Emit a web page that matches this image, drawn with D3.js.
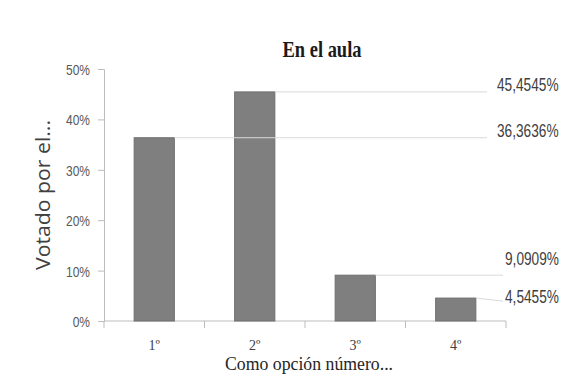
<!DOCTYPE html>
<html>
<head>
<meta charset="utf-8">
<script src="https://cdn.jsdelivr.net/npm/d3@7"></script>
<style>
  html, body { margin: 0; padding: 0; background: #fff; }
  svg { display: block; }
</style>
</head>
<body>
<svg id="chart" width="566" height="376"></svg>
<script>
// Votes per option rank, classroom group
const categories = ["1º", "2º", "3º", "4º"];
const values = [36.3636, 45.4545, 9.0909, 4.5455];
const valueLabels = ["36,3636%", "45,4545%", "9,0909%", "4,5455%"];
const yTicks = [0, 10, 20, 30, 40, 50];

const svg = d3.select("#chart");
const plot = { left: 104, right: 506, top: 69, bottom: 321 };

const x = d3.scaleBand()
  .domain(categories)
  .range([plot.left, plot.right])
  .paddingInner(0.6)
  .paddingOuter(0.3);

const y = d3.scaleLinear()
  .domain([0, 50])
  .range([plot.bottom, plot.top]);

const axisColor = "#bdbdbd";
const sans = "'Liberation Sans', Arial, sans-serif";
const serif = "'Liberation Serif', 'Times New Roman', serif";

// Y axis
const yAxis = svg.append("g")
  .attr("transform", `translate(${plot.left},0)`)
  .call(d3.axisLeft(y).tickValues(yTicks).tickFormat(d => d + "%").tickSizeOuter(0).tickSize(6).tickPadding(8));
yAxis.select(".domain").attr("stroke", axisColor);
yAxis.selectAll(".tick line").attr("stroke", axisColor);
// condensed tick labels: scale each label horizontally about its right edge
yAxis.selectAll(".tick text")
  .attr("x", 0)
  .attr("dy", "0.36em")
  .attr("transform", "translate(-14,0) scale(0.8,1)")
  .attr("fill", "#595959")
  .style("font-family", sans)
  .style("font-size", "15px");

// X axis with tick marks on band boundaries
const xAxisG = svg.append("g").attr("transform", `translate(0,${plot.bottom})`);
xAxisG.append("line")
  .attr("x1", plot.left).attr("x2", plot.right)
  .attr("y1", 0).attr("y2", 0)
  .attr("stroke", axisColor);
const boundaries = categories.map((c, i) => plot.left + i * x.step());
boundaries.push(plot.right);
xAxisG.selectAll("line.tick")
  .data(boundaries)
  .join("line")
  .attr("class", "tick")
  .attr("x1", d => d).attr("x2", d => d)
  .attr("y1", 0).attr("y2", 7)
  .attr("stroke", axisColor);
xAxisG.selectAll("text.cat")
  .data(categories)
  .join("text")
  .attr("class", "cat")
  .attr("x", d => x(d) + x.bandwidth() / 2)
  .attr("y", 29)
  .attr("text-anchor", "middle")
  .attr("fill", "#404040")
  .style("font-family", serif)
  .style("font-size", "14px")
  .text(d => d);

// Bars
svg.append("g")
  .selectAll("rect")
  .data(values)
  .join("rect")
  .attr("x", (d, i) => x(categories[i]))
  .attr("y", d => y(d))
  .attr("width", x.bandwidth())
  .attr("height", d => plot.bottom - y(d))
  .attr("fill", "#7f7f7f")
  .attr("stroke", "#6f6f6f")
  .attr("stroke-width", 1);

// Leader lines and value labels on the right
const leaderEnd = [487, 487, 503, 503];
const leaderDrop = [0, 0, 0, 3];
const labelX = [497, 497, 505, 505];
const labelDy = [-1, -1, -10, 2];

const leaders = svg.append("g");
values.forEach((v, i) => {
  const x0 = x(categories[i]) + x.bandwidth();
  const y0 = y(v);
  const y1 = y0 + leaderDrop[i];
  leaders.append("line")
    .attr("x1", x0).attr("y1", y0)
    .attr("x2", leaderEnd[i]).attr("y2", y1)
    .attr("stroke", "#d9d9d9")
    .attr("stroke-width", 1);
  leaders.append("text")
    .attr("transform", `translate(${labelX[i]},${y1 + labelDy[i]}) scale(0.76,1)`)
    .attr("fill", "#404040")
    .style("font-family", sans)
    .style("font-size", "18px")
    .text(valueLabels[i]);
});

// Title
svg.append("text")
  .attr("x", 322)
  .attr("y", 57)
  .attr("text-anchor", "middle")
  .attr("fill", "#1a1a1a")
  .attr("textLength", 79)
  .attr("lengthAdjust", "spacingAndGlyphs")
  .style("font-family", serif)
  .style("font-weight", "bold")
  .style("font-size", "23px")
  .text("En el aula");

// Axis titles
svg.append("text")
  .attr("transform", "translate(50,195) rotate(-90)")
  .attr("text-anchor", "middle")
  .attr("fill", "#404040")
  .attr("textLength", 150)
  .attr("lengthAdjust", "spacingAndGlyphs")
  .style("font-family", "'Open Sans', 'Noto Sans', sans-serif")
  .style("font-size", "20px")
  .text("Votado por el...");

svg.append("text")
  .attr("x", 309)
  .attr("y", 370)
  .attr("text-anchor", "middle")
  .attr("fill", "#262626")
  .attr("textLength", 168)
  .attr("lengthAdjust", "spacingAndGlyphs")
  .style("font-family", serif)
  .style("font-size", "19px")
  .text("Como opción número...");
</script>
</body>
</html>
